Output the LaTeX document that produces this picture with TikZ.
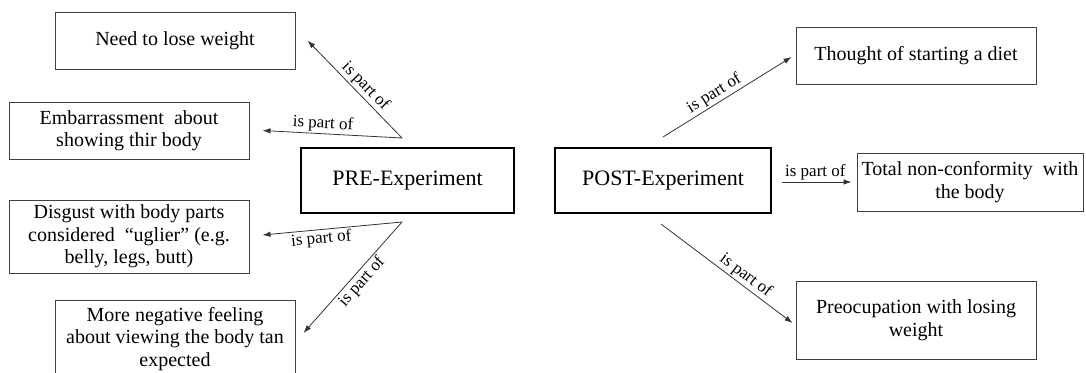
\documentclass[tikz,border=0pt]{standalone}
\usepackage{fontspec}
\setmainfont{Liberation Serif}
\newfontfamily\tnr{Liberation Serif}
\usetikzlibrary{arrows.meta,calc}
\begin{document}
\begin{tikzpicture}[x=1pt,y=1pt,
  box/.style={draw=black!75, line width=1pt, align=center, inner sep=0pt,
    font=\tnr\fontsize{20}{22.5}\selectfont},
  mainbox/.style={draw=black, line width=2pt, inner sep=0pt,
    font=\tnr\fontsize{22}{24}\selectfont},
  arr/.style={draw=black!80, line width=0.8pt, -{Latex[length=8pt,width=5.5pt]}},
  lbl/.style={font=\tnr\fontsize{17}{18}\selectfont, sloped, inner sep=1.5pt}]
\fill[white] (0,0) rectangle (1086,-372);
\useasboundingbox (0,0) rectangle (1086,-372);

% left side
\node[box, minimum width=240, minimum height=57] (need) at (175,-40.5) {Need to lose weight};
\node[box, minimum width=240, minimum height=57] (emb) at (129,-130.5) {Embarrassment\ \ about\\showing thir body};
\node[mainbox, minimum width=213, minimum height=65] (pre) at (407.5,-180.5) {PRE-Experiment};
\node[box, minimum width=240, minimum height=73] (dis) at (129,-236.5) {Disgust with body parts\\considered \ “uglier” (e.g.\\belly, legs, butt)};
\node[box, minimum width=240, minimum height=78] (more) at (175,-339) {More negative feeling\\about viewing the body tan\\expected};

% right side
\node[mainbox, minimum width=216, minimum height=65] (post) at (663,-180.5) {POST-Experiment};
\node[box, minimum width=240, minimum height=57] (thought) at (916,-55.5) {Thought of starting a diet};
\node[box, minimum width=226, minimum height=58] (total) at (970,-182) {Total non-conformity\ \ with\\the body};
\node[box, minimum width=240, minimum height=78] (preo) at (916,-320) {Preocupation with losing\\weight};

% connector end points
\coordinate (preN) at ($(pre.north)+(-5.5,9)$);
\coordinate (preS) at ($(pre.south)+(-5.5,-8)$);
\coordinate (needE) at ($(need.east)+(12,0)$);
\coordinate (embE) at ($(emb.east)+(13,0)$);
\coordinate (disE) at ($(dis.east)+(13,1.5)$);
\coordinate (moreE) at ($(more.east)+(8,6)$);
\coordinate (postN) at ($(post.north)+(0,10)$);
\coordinate (postS) at ($(post.south)+(-2,-10)$);
\coordinate (postE) at ($(post.east)+(10,-1.5)$);
\coordinate (thoughtW) at ($(thought.west)+(-4,-1.5)$);
\coordinate (totalW) at ($(total.west)+(-5,0)$);
\coordinate (preoW) at ($(preo.west)+(-3,-3)$);

\draw[arr] (preN) -- node[lbl, above, pos=0.46] {is part of} (needE);
\draw[arr] (preN) -- node[lbl, above, pos=0.57] {is part of} (embE);
\draw[arr] (preS) -- node[lbl, below, pos=0.585] {is part of} (disE);
\draw[arr] (preS) -- node[lbl, below, pos=0.48] {is part of} (moreE);

\draw[arr] (postN) -- node[lbl, above, pos=0.44] {is part of} (thoughtW);
\draw[arr] (postE) -- node[lbl, above, pos=0.48] {is part of} (totalW);
\draw[arr] (postS) -- node[lbl, above, pos=0.60] {is part of} (preoW);
\end{tikzpicture}
\end{document}
